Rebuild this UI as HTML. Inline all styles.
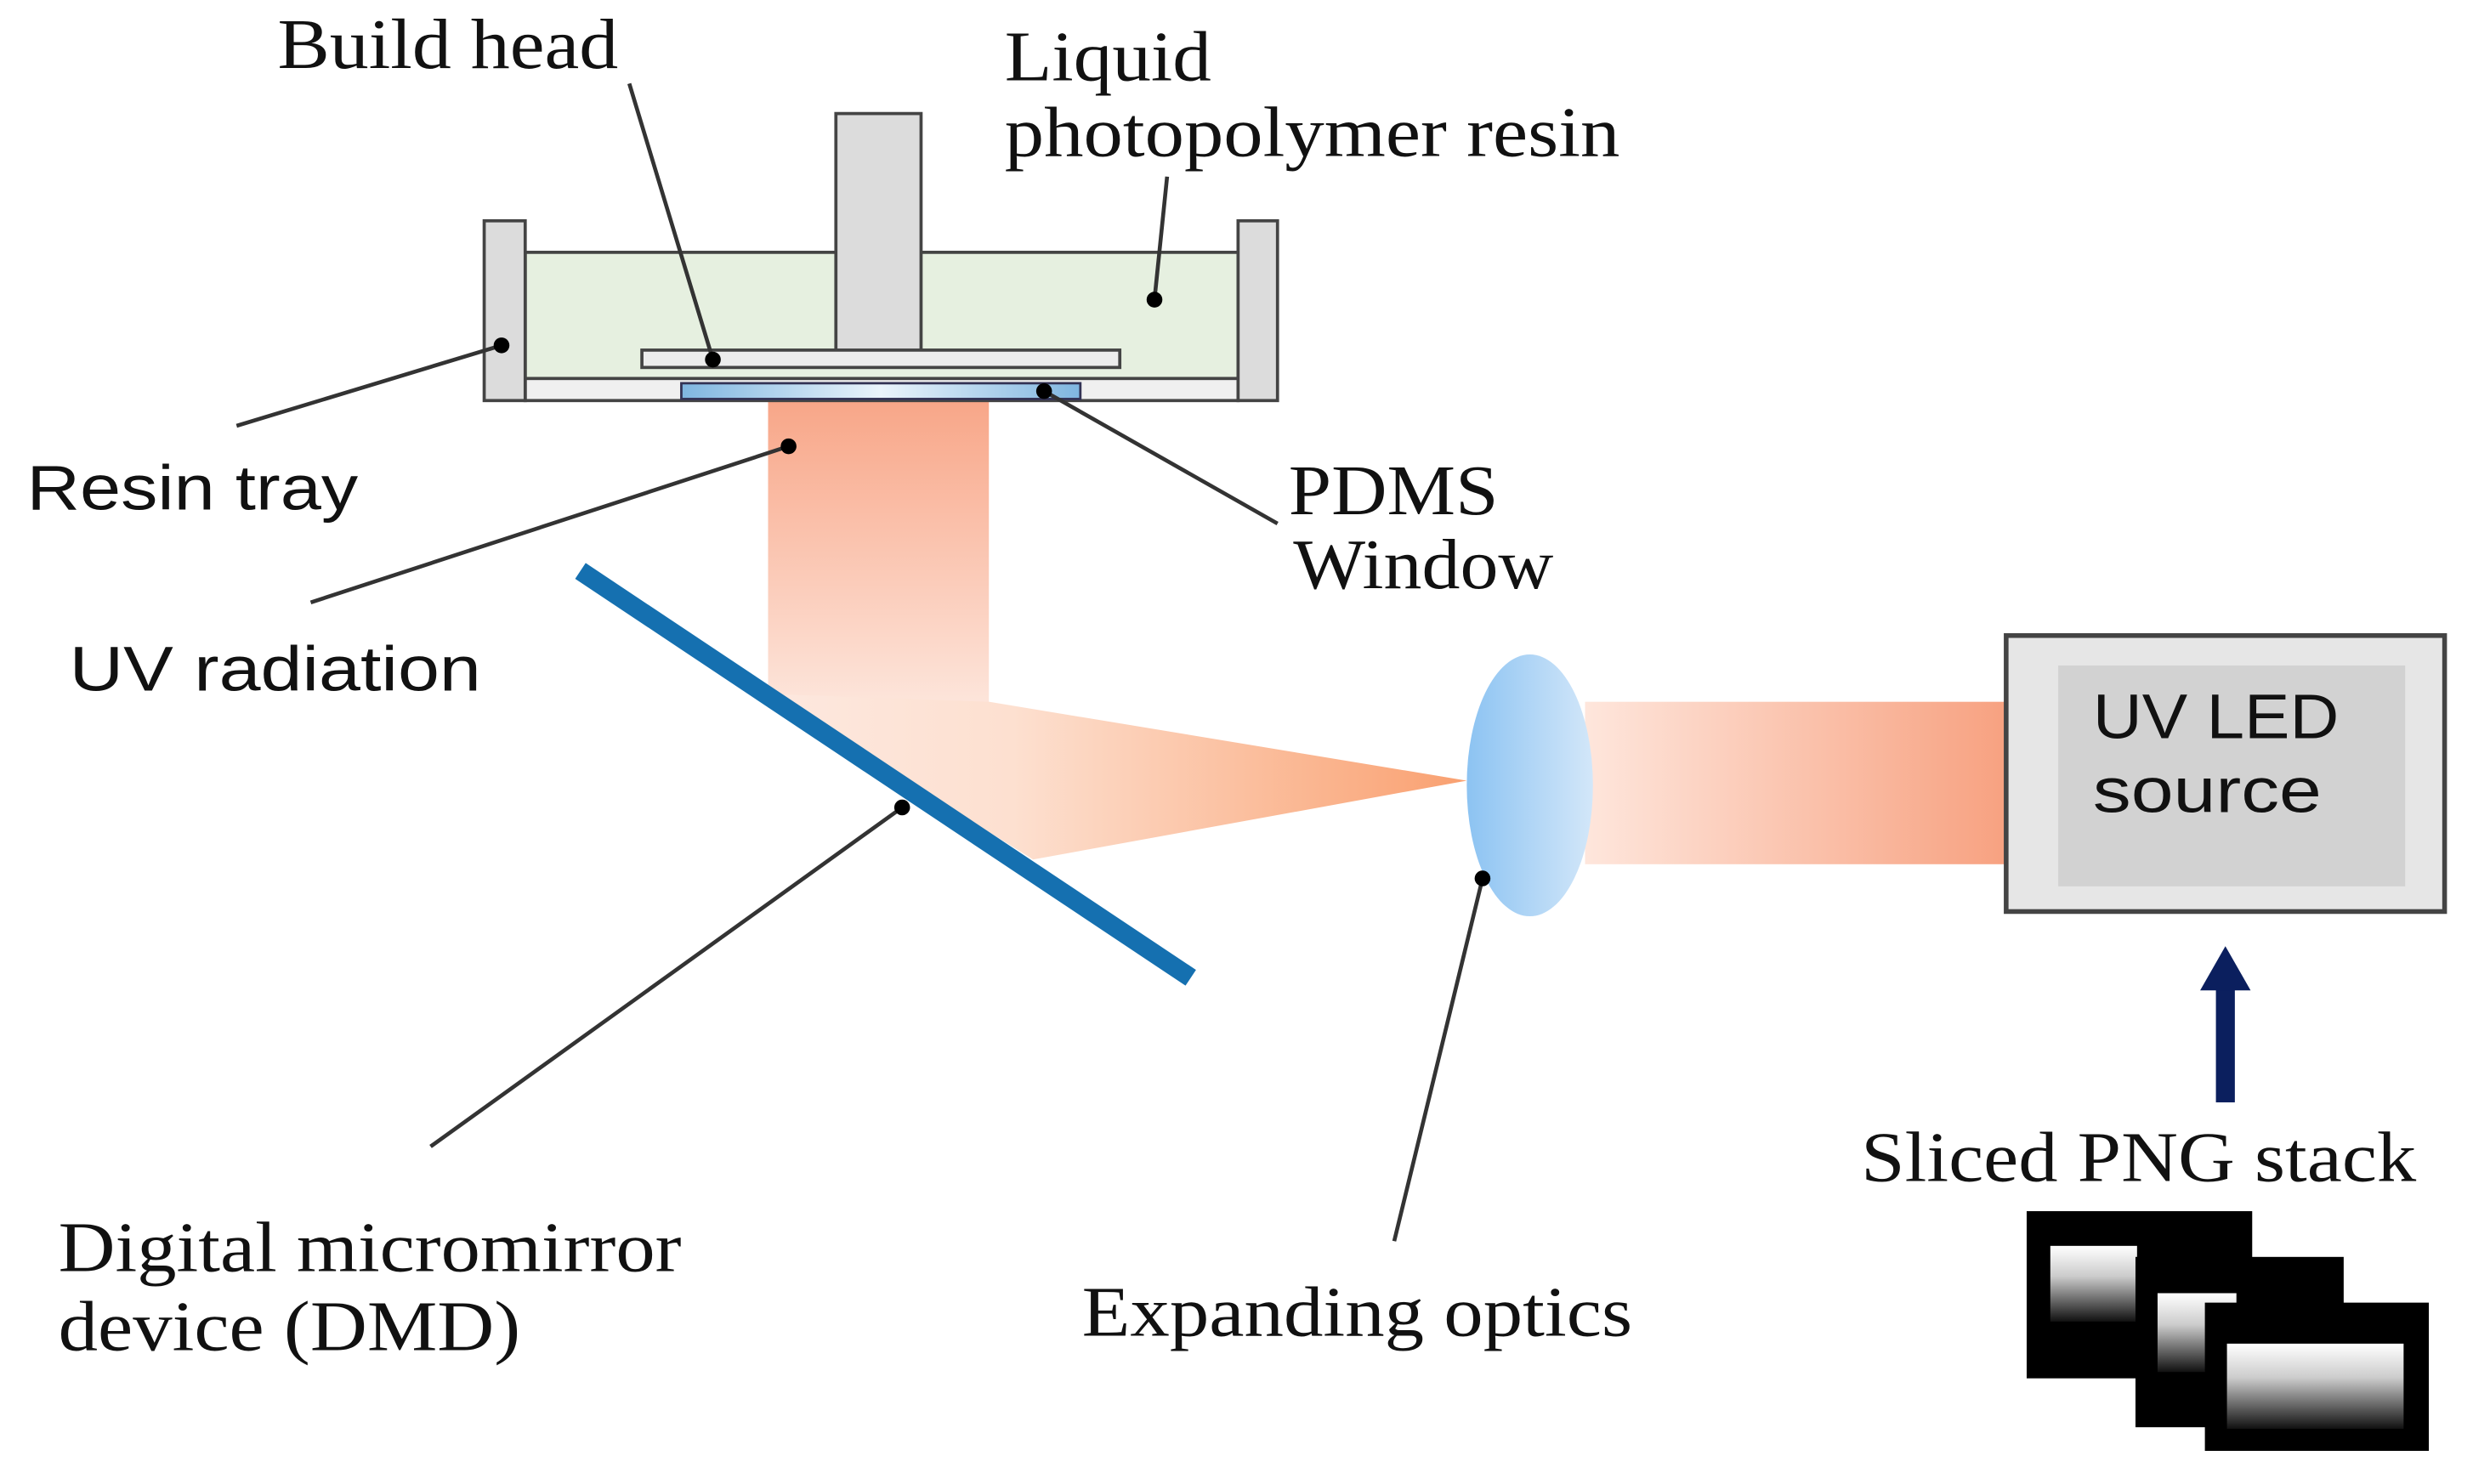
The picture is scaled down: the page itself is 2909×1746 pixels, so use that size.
<!DOCTYPE html>
<html><head><meta charset="utf-8"><style>
html,body{margin:0;padding:0;background:#fff;}
svg{display:block;}
.serif{font-family:"Liberation Serif",serif;fill:#111;}
.sans{font-family:"Liberation Sans",sans-serif;fill:#111;}
</style></head><body>
<svg width="2909" height="1746" viewBox="0 0 1568 941" preserveAspectRatio="none" xmlns="http://www.w3.org/2000/svg">
<defs>
<linearGradient id="gv" x1="0" y1="0" x2="0" y2="1">
<stop offset="0" stop-color="#f8a688"/><stop offset="1" stop-color="#fde6dc"/></linearGradient>
<linearGradient id="gh" x1="0" y1="0" x2="1" y2="0">
<stop offset="0" stop-color="#fde8df"/><stop offset="0.35" stop-color="#fde0d0"/><stop offset="1" stop-color="#f9a070"/></linearGradient>
<linearGradient id="gh2" x1="0" y1="0" x2="1" y2="0">
<stop offset="0" stop-color="#fee6dc"/><stop offset="1" stop-color="#f7a180"/></linearGradient>
<linearGradient id="glens" x1="0" y1="0" x2="1" y2="0">
<stop offset="0" stop-color="#8cc3f2"/><stop offset="1" stop-color="#d3e7f9"/></linearGradient>
<linearGradient id="gpdms" x1="0" y1="0" x2="1" y2="0">
<stop offset="0" stop-color="#7fb6e0"/><stop offset="0.5" stop-color="#eaf4fb"/><stop offset="1" stop-color="#7fb6e0"/></linearGradient>
<linearGradient id="gpng" x1="0" y1="0" x2="0" y2="1">
<stop offset="0" stop-color="#ffffff"/><stop offset="0.4" stop-color="#cccccc"/><stop offset="1" stop-color="#111"/></linearGradient>
</defs>

<rect x="487" y="254" width="140" height="195" fill="url(#gv)"/>
<polygon points="487,440 627,445 930,495 655,545" fill="url(#gh)"/>
<rect x="1005" y="445" width="268" height="103" fill="url(#gh2)"/>

<rect x="333" y="160" width="452" height="82" fill="#e6f0e0" stroke="#444" stroke-width="2"/>
<rect x="333" y="240" width="452" height="14" fill="#f0f0f0" stroke="#444" stroke-width="2"/>
<rect x="307" y="140" width="26" height="114" fill="#dcdcdc" stroke="#444" stroke-width="2"/>
<rect x="785" y="140" width="25" height="114" fill="#dcdcdc" stroke="#444" stroke-width="2"/>
<rect x="530" y="72" width="54" height="152" fill="#dcdcdc" stroke="#444" stroke-width="2"/>
<rect x="407" y="222" width="303" height="11" fill="#ececec" stroke="#444" stroke-width="2"/>
<rect x="432" y="243" width="253" height="10" fill="url(#gpdms)" stroke="#335" stroke-width="1.5"/>

<line x1="368" y1="362" x2="755" y2="620" stroke="#1570b0" stroke-width="12"/>

<ellipse cx="970" cy="498" rx="40" ry="83" fill="url(#glens)"/>

<rect x="1272" y="403" width="278" height="175" fill="#e6e6e6" stroke="#444" stroke-width="3"/>
<rect x="1305" y="422" width="220" height="140" fill="#d2d2d2"/>
<text x="1327" y="468" class="sans" font-size="40" textLength="156" lengthAdjust="spacingAndGlyphs">UV LED</text>
<text x="1327" y="515" class="sans" font-size="40" textLength="145" lengthAdjust="spacingAndGlyphs">source</text>

<rect x="1405" y="625" width="12" height="74" fill="#0b1f5e"/>
<polygon points="1395,628 1411,600 1427,628" fill="#0b1f5e"/>

<rect x="1285" y="768" width="143" height="106" fill="#000"/>
<rect x="1300" y="790" width="55" height="48" fill="url(#gpng)"/>
<rect x="1354" y="797" width="132" height="108" fill="#000"/>
<rect x="1368" y="820" width="50" height="50" fill="url(#gpng)"/>
<rect x="1398" y="826" width="142" height="94" fill="#000"/>
<rect x="1412" y="852" width="112" height="54" fill="url(#gpng)"/>

<g stroke="#333" stroke-width="2.5" fill="none">
<line x1="399" y1="53" x2="452" y2="228"/>
<line x1="740" y1="112" x2="732" y2="190"/>
<line x1="150" y1="270" x2="318" y2="219"/>
<line x1="810" y1="332" x2="662" y2="248"/>
<line x1="197" y1="382" x2="500" y2="283"/>
<line x1="273" y1="727" x2="572" y2="512"/>
<line x1="884" y1="787" x2="940" y2="557"/>
</g>
<g fill="#000">
<circle cx="452" cy="228" r="5"/><circle cx="732" cy="190" r="5"/><circle cx="318" cy="219" r="5"/>
<circle cx="662" cy="248" r="5"/><circle cx="500" cy="283" r="5"/><circle cx="572" cy="512" r="5"/>
<circle cx="940" cy="557" r="5"/>
</g>

<text x="176" y="43" class="serif" font-size="45" textLength="216" lengthAdjust="spacingAndGlyphs">Build head</text>
<text x="637" y="51" class="serif" font-size="45" textLength="131" lengthAdjust="spacingAndGlyphs">Liquid</text>
<text x="637" y="99" class="serif" font-size="45" textLength="390" lengthAdjust="spacingAndGlyphs">photopolymer resin</text>
<text x="17" y="323" class="sans" font-size="40" textLength="210" lengthAdjust="spacingAndGlyphs">Resin tray</text>
<text x="44" y="438" class="sans" font-size="40" textLength="261" lengthAdjust="spacingAndGlyphs">UV radiation</text>
<text x="817" y="326" class="serif" font-size="45" textLength="133" lengthAdjust="spacingAndGlyphs">PDMS</text>
<text x="820" y="373" class="serif" font-size="45" textLength="165" lengthAdjust="spacingAndGlyphs">Window</text>
<text x="37" y="806" class="serif" font-size="45" textLength="395" lengthAdjust="spacingAndGlyphs">Digital micromirror</text>
<text x="37" y="856" class="serif" font-size="45" textLength="293" lengthAdjust="spacingAndGlyphs">device (DMD)</text>
<text x="686" y="847" class="serif" font-size="45" textLength="349" lengthAdjust="spacingAndGlyphs">Expanding optics</text>
<text x="1180" y="749" class="serif" font-size="45" textLength="352" lengthAdjust="spacingAndGlyphs">Sliced PNG stack</text>
</svg>
</body></html>
